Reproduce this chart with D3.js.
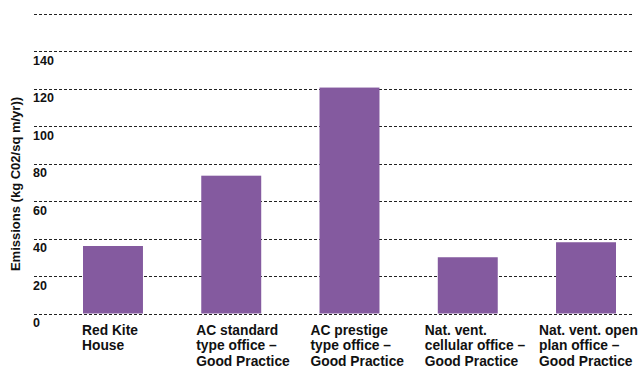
<!DOCTYPE html>
<html>
<head>
<meta charset="utf-8">
<script src="https://cdn.jsdelivr.net/npm/d3@7"></script>
<style>
  body { margin: 0; background: #fff; }
  text { font-family: "Liberation Sans", Arial, Helvetica, sans-serif; font-weight: bold; fill: #111; }
</style>
</head>
<body>
<svg id="chart" width="640" height="367"></svg>
<script>
// Data
var categories = [
  ["Red Kite", "House"],
  ["AC standard", "type office \u2013", "Good Practice"],
  ["AC prestige", "type office \u2013", "Good Practice"],
  ["Nat. vent.", "cellular office \u2013", "Good Practice"],
  ["Nat. vent. open", "plan office \u2013", "Good Practice"]
];
var emissions = [36, 73.5, 120.5, 30, 38];
var yTicks = [0, 20, 40, 60, 80, 100, 120, 140];
var gridValues = [0, 20, 40, 60, 80, 100, 120, 140, 160];
var yTitle = "Emissions (kg C02/sq m/yr))";

var svg = d3.select("#chart");

var x = d3.scaleBand()
    .domain(d3.range(categories.length))
    .range([83, 616])
    .paddingInner(0.493)
    .paddingOuter(0);

// labels are laid out on their own grid, not under the bar edges
var xLabel = d3.scalePoint()
    .domain(d3.range(categories.length))
    .range([82, 539]);

var y = d3.scaleLinear()
    .domain([0, 160])
    .range([313.5, 13.5]);

// dashed grid lines
svg.append("g")
  .selectAll("line")
  .data(gridValues)
  .join("line")
    .attr("x1", 34)
    .attr("x2", 634)
    .attr("y1", function(d) { return Math.round(y(d)) + 0.5; })
    .attr("y2", function(d) { return Math.round(y(d)) + 0.5; })
    .attr("stroke", "#222")
    .attr("stroke-width", 1)
    .attr("stroke-dasharray", "3,2");

// tick labels sit under their line
svg.append("g")
  .selectAll("text")
  .data(yTicks)
  .join("text")
    .attr("x", 33)
    .attr("y", function(d) { return y(d) + 13.5; })
    .attr("font-size", "12.5px")
    .text(function(d) { return d; });

// bars
svg.append("g")
  .selectAll("rect")
  .data(emissions)
  .join("rect")
    .attr("x", function(d, i) { return x(i); })
    .attr("y", function(d) { return y(d); })
    .attr("width", x.bandwidth())
    .attr("height", function(d) { return y(0) - y(d); })
    .attr("fill", "#845A9F");

// category labels
var labels = svg.append("g")
  .selectAll("text")
  .data(categories)
  .join("text")
    .attr("x", function(d, i) { return xLabel(i); })
    .attr("y", 334.5)
    .attr("font-size", "13.8px");

labels.selectAll("tspan")
  .data(function(d) { return d; })
  .join("tspan")
    .attr("x", function() { return d3.select(this.parentNode).attr("x"); })
    .attr("dy", function(d, i) { return i === 0 ? 0 : 15.5; })
    .text(function(d) { return d; });

// y axis title
svg.append("text")
  .attr("transform", "translate(20,184) rotate(-90)")
  .attr("text-anchor", "middle")
  .attr("font-size", "13px")
  .text(yTitle);
</script>
</body>
</html>
